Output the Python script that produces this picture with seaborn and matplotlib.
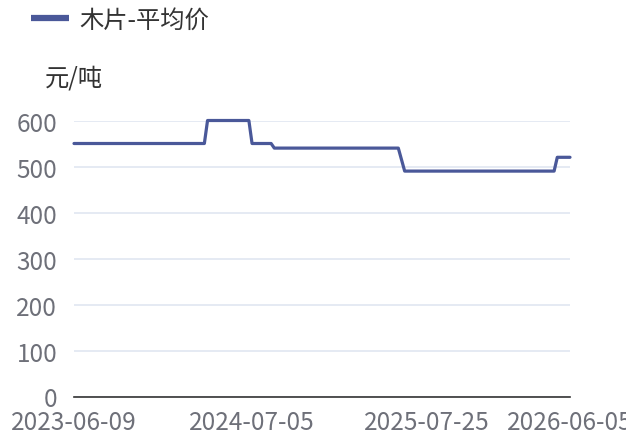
import matplotlib
matplotlib.use("Agg")
import matplotlib.pyplot as plt
import matplotlib.dates as mdates
import pandas as pd
import seaborn as sns

# price change points (weekly data, Fridays)
dates = ["2023-06-09", "2024-03-22", "2024-03-29", "2024-06-28", "2024-07-05",
         "2024-08-16", "2024-08-23", "2025-05-23", "2025-06-06", "2026-05-01",
         "2026-05-08", "2026-06-05"]
prices = [550, 550, 600, 600, 550, 550, 540, 540, 490, 490, 520, 520]
tick_dates = ["2023-06-09", "2024-07-05", "2025-07-25", "2026-06-05"]
series_name = "木片-平均价"
unit = "元/吨"

df = pd.DataFrame({"date": pd.to_datetime(dates), "price": prices, "name": series_name})

sns.set_style("white")
plt.rcParams["font.family"] = ["Noto Sans CJK SC", "DejaVu Sans"]

fs = 17.5
fig = plt.figure(figsize=(6.26, 4.39), dpi=100)
ax = fig.add_axes([74 / 626, 1 - 397.5 / 439, 496 / 626, 276 / 439])

line_color = "#4a5899"
sns.lineplot(data=df, x="date", y="price", color=line_color, linewidth=2.3, ax=ax,
             label=series_name, legend=False)
for ln in ax.get_lines():
    ln.set_clip_on(False)

ax.set_ylim(0, 600)
ax.set_yticks(range(0, 601, 100))
ax.set_xlim(pd.Timestamp(dates[0]), pd.Timestamp(dates[-1]))
ax.set_xticks(pd.to_datetime(tick_dates))
ax.xaxis.set_major_formatter(mdates.DateFormatter("%Y-%m-%d"))

for s in ["top", "right", "left"]:
    ax.spines[s].set_visible(False)
ax.spines["bottom"].set_color("#333333")
ax.spines["bottom"].set_linewidth(1.2)
ax.yaxis.grid(True, color="#e0e6f1", linewidth=1.2)
ax.set_axisbelow(True)
ax.tick_params(axis="y", length=0, pad=12, labelsize=fs, labelcolor="#6e7079")
ax.tick_params(axis="x", length=6, width=1.2, color="#333333", pad=3,
               labelsize=fs, labelcolor="#6e7079")
ax.set_xlabel("")
ax.set_ylabel("")

fig.text(45 / 626, 1 - 78 / 439, unit, fontsize=fs, color="#333333", va="center", ha="left")

handles, labels = ax.get_legend_handles_labels()
leg = fig.legend(handles, labels, loc="center left", bbox_to_anchor=(9 / 626, 1 - 21 / 439),
                 frameon=False, fontsize=fs, handlelength=1.55, handletextpad=0.45,
                 labelcolor="#333333")
for h in leg.get_lines():
    h.set_linewidth(4.5)
    h.set_solid_capstyle("butt")

fig.savefig("out.png", dpi=100)
